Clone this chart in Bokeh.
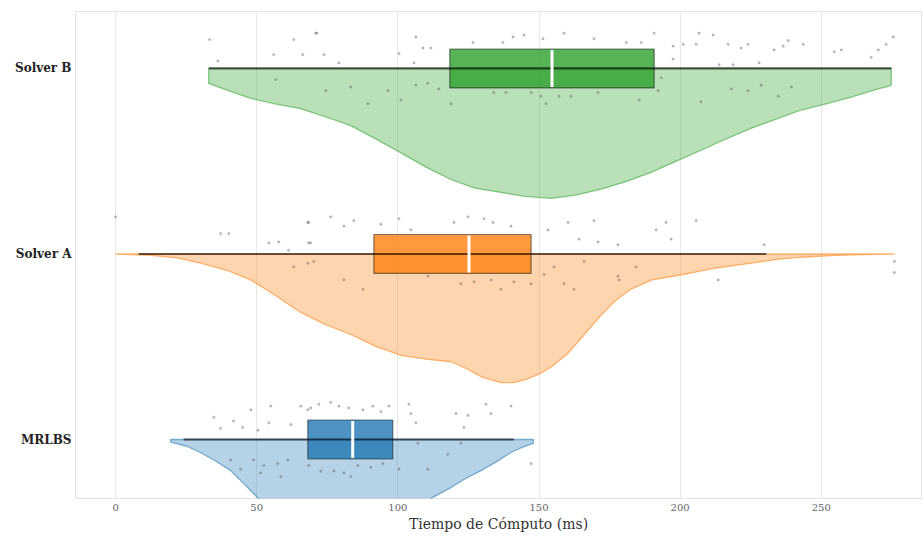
from bokeh.plotting import figure
from bokeh.models import ColumnDataSource, FixedTicker
from bokeh.embed import file_html
from bokeh.resources import INLINE

# ---------------- data ----------------
groups = ["MRLBS", "Solver A", "Solver B"]
colors = ["#1f77b4", "#ff7f0e", "#2ca02c"]
x_ticks = [0, 50, 100, 150, 200, 250]

# box statistics: whisker low, Q1, median, Q3, whisker high (ms)
whisk_lo = [24.1, 8.2, 33.0]
q1 = [68.1, 91.5, 118.4]
median = [84.0, 125.2, 154.6]
q3 = [98.2, 147.2, 190.8]
whisk_hi = [141.1, 230.5, 274.8]

# half-violin density profiles (ms, relative width)
mrlbs_dens_x = [19.5, 25, 30, 35, 40.8, 45, 50.4, 60, 70, 80, 85, 92, 100, 106, 112,
                118.8, 124, 129.4, 135, 140, 144, 148]
mrlbs_dens_w = [0.02, 0.05, 0.10, 0.16, 0.24, 0.33, 0.45, 0.66, 0.86, 0.97, 1.0, 0.96,
                0.82, 0.62, 0.45, 0.37, 0.30, 0.24, 0.17, 0.10, 0.06, 0.03]

solver_a_dens_x = [0, 12.4, 22, 30.1, 40, 47.9, 56, 65.6, 74, 83.3, 92, 101.1, 110, 118.8,
                   124, 130, 136.5, 141, 145.4, 150, 154.3, 160, 164.9, 172.0, 177, 182.6,
                   190, 200.4, 212, 225.2, 235, 242.9, 255, 265, 275.9]
solver_a_dens_w = [0.0, 0.01, 0.03, 0.07, 0.13, 0.20, 0.31, 0.45, 0.54, 0.62, 0.71, 0.78,
                   0.81, 0.83, 0.88, 0.95, 0.99, 0.99, 0.965, 0.925, 0.87, 0.77, 0.65, 0.47,
                   0.36, 0.27, 0.20, 0.16, 0.11, 0.07, 0.04, 0.025, 0.01, 0.005, 0.0]

solver_b_dens_x = [33.0, 40, 47.9, 56, 65.6, 74, 83.3, 92, 101.1, 110, 118.8, 127, 136.5,
                   145, 154.3, 163, 172.0, 181, 189.7, 198, 207.4, 216, 225.2, 234, 242.9,
                   252, 260.6, 268, 274.8]
solver_b_dens_w = [0.115, 0.17, 0.23, 0.27, 0.31, 0.37, 0.44, 0.54, 0.65, 0.76, 0.855, 0.92,
                   0.955, 0.985, 1.0, 0.975, 0.93, 0.87, 0.80, 0.72, 0.63, 0.545, 0.46, 0.39,
                   0.32, 0.27, 0.22, 0.17, 0.13]

# jittered observations (ms, vertical offset)
mrlbs_pts_x = [34.8, 37.2, 41.8, 45.0, 47.9, 50.4, 55.0, 54.3, 62.1, 65.6, 68.1, 48.9, 52.5,
               57.4, 61.0, 44.3, 51.4, 40.8, 58.5, 69.1, 72.0, 76.2, 79.1, 82.6, 87.6, 91.1,
               94.0, 96.8, 103.9, 104.6, 106.4, 120.6, 124.8, 123.4, 131.2, 133.0, 140.1,
               68.4, 72.7, 77.3, 80.9, 85.8, 90.4, 94.7, 100.4, 110.6, 107.1, 117.7, 122.3,
               147.2, 83.3]
mrlbs_pts_j = [0.12, 0.06, 0.10, 0.065, 0.16, 0.05, 0.18, 0.09, 0.08, 0.18, 0.16, -0.11,
               -0.14, -0.13, -0.11, -0.16, -0.18, -0.11, -0.20, 0.17, 0.19, 0.20, 0.18, 0.17,
               0.16, 0.18, 0.15, 0.18, 0.19, 0.14, 0.09, 0.14, 0.13, 0.065, 0.19, 0.14, 0.18,
               -0.14, -0.17, -0.17, -0.18, -0.14, -0.15, -0.13, -0.16, -0.16, -0.02, -0.08,
               -0.02, -0.13, -0.20]

solver_a_pts_x = [0.0, 37.2, 40.1, 54.3, 57.8, 61.3, 68.4, 69.1, 63.1, 68.1, 68.1, 76.2, 80.9,
                  84.4, 94.0, 100.4, 104.6, 119.9, 124.8, 130.5, 133.7, 140.1, 153.2, 160.3,
                  169.5, 164.2, 68.4, 70.2, 80.9, 87.6, 110.6, 122.3, 127.0, 133.0, 136.5,
                  141.1, 147.2, 151.8, 158.9, 162.4, 155.3, 166.0, 178.0, 170.9, 191.5, 195.0,
                  196.8, 205.7, 178.0, 178.4, 184.4, 213.5, 229.8, 275.9, 275.9]
solver_a_pts_j = [0.20, 0.11, 0.11, 0.06, 0.065, 0.02, 0.17, 0.06, -0.07, -0.05, 0.17, 0.20,
                  0.15, 0.18, 0.16, 0.19, 0.13, 0.17, 0.20, 0.19, 0.17, 0.15, 0.13, 0.17, 0.18,
                  0.08, 0.06, -0.04, -0.14, -0.19, -0.12, -0.16, -0.15, -0.14, -0.19, -0.15,
                  -0.16, -0.11, -0.16, -0.19, -0.07, -0.04, -0.12, 0.065, 0.13, 0.17, 0.08,
                  0.18, 0.05, -0.14, -0.07, -0.14, 0.05, -0.04, -0.10]

solver_b_pts_x = [33.3, 36.2, 63.1, 70.9, 56.0, 66.3, 56.7, 71.3, 73.8, 79.1, 106.4, 108.9,
                  111.7, 100.4, 105.7, 83.3, 89.4, 96.5, 101.1, 106.4, 110.6, 114.5, 118.8,
                  74.5, 126.6, 137.2, 140.8, 144.7, 151.4, 158.9, 169.5, 134.0, 138.3, 147.2,
                  150.7, 152.5, 157.1, 161.3, 170.9, 180.9, 186.2, 190.8, 197.5, 201.1, 205.7,
                  206.7, 211.7, 217.0, 221.6, 224.1, 233.3, 236.5, 238.3, 243.6, 254.6, 257.1,
                  267.7, 270.2, 273.0, 275.5, 197.5, 213.8, 218.8, 228.0, 193.3, 192.2, 185.5,
                  207.4, 218.1, 224.1, 228.7, 234.8, 239.4]
solver_b_pts_j = [0.156, 0.04, 0.156, 0.19, 0.075, 0.075, -0.06, 0.19, 0.075, 0.03, 0.17, 0.11,
                  0.11, 0.08, 0.03, -0.10, -0.19, -0.12, -0.17, -0.09, -0.08, -0.11, -0.19,
                  -0.12, 0.14, 0.14, 0.17, 0.18, 0.16, 0.19, 0.16, -0.13, -0.13, -0.13, -0.15,
                  -0.19, -0.15, -0.15, -0.13, 0.14, 0.14, 0.19, 0.12, 0.13, 0.13, 0.19, 0.18,
                  0.13, 0.11, 0.13, 0.10, 0.12, 0.15, 0.13, 0.09, 0.10, 0.06, 0.10, 0.13, 0.17,
                  0.05, 0.02, 0.02, 0.03, -0.05, -0.12, -0.17, -0.18, -0.11, -0.12, -0.09,
                  -0.15, -0.10]

dens = [(mrlbs_dens_x, mrlbs_dens_w), (solver_a_dens_x, solver_a_dens_w),
        (solver_b_dens_x, solver_b_dens_w)]
pts = [(mrlbs_pts_x, mrlbs_pts_j), (solver_a_pts_x, solver_a_pts_j),
       (solver_b_pts_x, solver_b_pts_j)]

VIOLIN_DEPTH = 0.70
BOX_HALF = 0.105
SERIF = "DejaVu Serif"

# ---------------- figure ----------------
p = figure(width=922, height=535, output_backend="svg", toolbar_location=None,
           x_range=(-14.2, 285.5), y_range=(-0.318, 2.307),
           min_border_left=75, min_border_right=1, min_border_top=11, min_border_bottom=37)
p.background_fill_color = "white"
p.border_fill_color = "white"
p.outline_line_color = "#e2e2e2"
p.outline_line_width = 1

for i, g in enumerate(groups):
    c = colors[i]
    dx, dw = dens[i]
    ys = [i - VIOLIN_DEPTH * w for w in dw] + [i] * len(dx)
    xs = list(dx) + list(dx)[::-1]
    p.patch(xs, ys, fill_color=c, fill_alpha=0.33, line_color=c, line_alpha=0.55,
            line_width=1.3)

    px, pj = pts[i]
    src = ColumnDataSource(dict(x=px, y=[i + j for j in pj]))
    p.scatter("x", "y", source=src, size=2.2, color="#555555", alpha=0.3)

    p.quad(left=[q1[i]], right=[q3[i]], bottom=[i - BOX_HALF], top=[i + BOX_HALF],
           fill_color=c, fill_alpha=0.8, line_color="#1a1a1a", line_alpha=0.55,
           line_width=1.2)
    p.segment(x0=[whisk_lo[i]], x1=[whisk_hi[i]], y0=[i], y1=[i],
              line_color="black", line_alpha=0.6, line_width=2.2)
    p.segment(x0=[median[i]], x1=[median[i]], y0=[i - BOX_HALF + 0.005],
              y1=[i + BOX_HALF - 0.005], line_color="white", line_width=3)

# axes
p.xaxis.ticker = FixedTicker(ticks=x_ticks)
p.xaxis.axis_label = "Tiempo de Cómputo (ms)"
p.xaxis.axis_label_text_font = SERIF
p.xaxis.axis_label_text_font_size = "14px"
p.xaxis.axis_label_text_font_style = "normal"
p.xaxis.axis_label_text_color = "#333333"
p.xaxis.axis_label_standoff = 2
p.xaxis.major_label_text_font = SERIF
p.xaxis.major_label_text_font_size = "10px"
p.xaxis.major_label_text_color = "#666666"
p.xaxis.major_label_standoff = 5
p.xaxis.axis_line_color = None
p.xaxis.major_tick_line_color = None
p.xaxis.minor_tick_line_color = None
p.xaxis.major_tick_out = 0

p.yaxis.ticker = FixedTicker(ticks=[0, 1, 2])
p.yaxis.major_label_overrides = {i: g for i, g in enumerate(groups)}
p.yaxis.major_label_text_font = SERIF
p.yaxis.major_label_text_font_size = "12px"
p.yaxis.major_label_text_font_style = "bold"
p.yaxis.major_label_text_color = "#222222"
p.yaxis.major_label_standoff = 4
p.yaxis.axis_line_color = None
p.yaxis.major_tick_line_color = None
p.yaxis.minor_tick_line_color = None
p.yaxis.major_tick_out = 0

p.xgrid.ticker = FixedTicker(ticks=x_ticks)
p.xgrid.grid_line_color = "#e8e8e8"
p.xgrid.grid_line_width = 1
p.ygrid.grid_line_color = None

open("out.html", "w").write(file_html(p, INLINE))
